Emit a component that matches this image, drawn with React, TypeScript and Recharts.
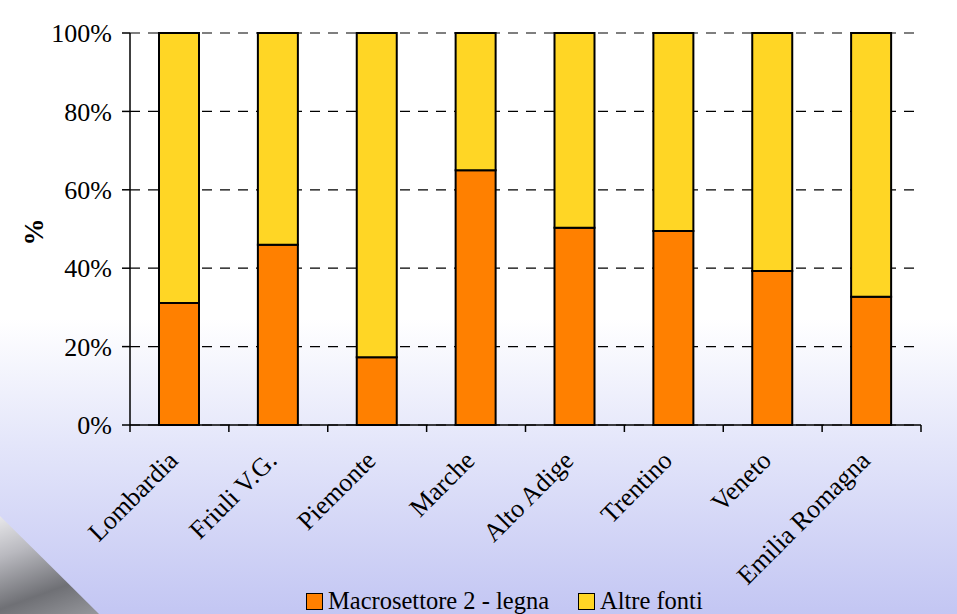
import { Bar, BarChart, CartesianGrid, Legend, XAxis, YAxis } from "recharts";

const regions = [
  "Lombardia",
  "Friuli V.G.",
  "Piemonte",
  "Marche",
  "Alto Adige",
  "Trentino",
  "Veneto",
  "Emilia Romagna",
];
const legna = [31.1, 46, 17.3, 65, 50.3, 49.5, 39.3, 32.7];
const altre = [68.9, 54, 82.7, 35, 49.7, 50.5, 60.7, 67.3];
const yTicks = [0, 20, 40, 60, 80, 100];

const ORANGE = "#ff8000";
const YELLOW = "#ffd625";
const FONT = "'Liberation Serif', 'Times New Roman', serif";

const data = regions.map((name, i) => ({ name, legna: legna[i], altre: altre[i] }));

function RegionTick(props: any) {
  const { x, y, payload, index } = props;
  const half = payload.offset ?? 0;
  const last = index === regions.length - 1;
  const tx = x;
  const ty = y + 37;
  return (
    <g>
      <line x1={x - half} x2={x - half} y1={y} y2={y + 7} stroke="#000" strokeWidth={1.5} />
      {last && <line x1={x + half} x2={x + half} y1={y} y2={y + 7} stroke="#000" strokeWidth={1.5} />}
      <text
        x={tx}
        y={ty}
        transform={`rotate(-45, ${tx}, ${ty})`}
        textAnchor="end"
        fontFamily={FONT}
        fontSize={26}
        fill="#000"
      >
        {payload.value}
      </text>
    </g>
  );
}

function AxisTitle(props: any) {
  const { viewBox } = props;
  const cx = viewBox.x + 34;
  const cy = viewBox.y + viewBox.height / 2 + 3;
  return (
    <text
      x={cx}
      y={cy}
      transform={`rotate(-90, ${cx}, ${cy})`}
      textAnchor="middle"
      dominantBaseline="central"
      fontFamily={FONT}
      fontSize={27}
      fontWeight="bold"
      fill="#000"
    >
      %
    </text>
  );
}

function LegendBox() {
  const item = (color: string, label: string, left: number) => (
    <div style={{ position: "absolute", left, top: 14, display: "flex", alignItems: "center" }}>
      <span
        style={{
          width: 15,
          height: 15,
          background: color,
          border: "1.5px solid #000",
          display: "inline-block",
          marginRight: 5,
        }}
      />
      <span style={{ fontFamily: FONT, fontSize: 24.5, lineHeight: "18px", color: "#000" }}>{label}</span>
    </div>
  );
  return (
    <div style={{ position: "relative", width: 957, height: 36 }}>
      {item(ORANGE, "Macrosettore 2 - legna", 306)}
      {item(YELLOW, "Altre fonti", 578)}
    </div>
  );
}

export default function App() {
  return (
    <div
      style={{
        position: "fixed",
        left: 0,
        top: 0,
        width: 957,
        height: 614,
        overflow: "hidden",
        background: "linear-gradient(to bottom, #ffffff 0%, #ffffff 52%, #e4e6fa 72%, #c3c6f3 100%)",
      }}
    >
      <div
        style={{
          position: "absolute",
          left: 0,
          top: 505,
          width: 110,
          height: 109,
          clipPath: "polygon(0 10%, 35% 45%, 90% 100%, 0 100%)",
          background: "linear-gradient(160deg, #f4f4f6 0%, #b9b9bf 35%, #6f7075 70%, #9a9ba0 100%)",
        }}
      />
      <BarChart
        width={957}
        height={614}
        data={data}
        margin={{ top: 33, right: 36, left: 0, bottom: 0 }}
        barSize={40}
        style={{ position: "absolute", left: 0, top: 0 }}
      >
        <CartesianGrid vertical={false} stroke="#000" strokeDasharray="10 8" strokeWidth={1.2} />
        <XAxis
          dataKey="name"
          height={153}
          interval={0}
          tickSize={0}
          tickMargin={0}
          tickLine={false}
          axisLine={{ stroke: "#000", strokeWidth: 1.5 }}
          tick={<RegionTick />}
        />
        <YAxis
          width={130}
          domain={[0, 100]}
          ticks={yTicks}
          interval={0}
          tickSize={8}
          tickMargin={10}
          tickFormatter={(v: number) => `${v}%`}
          tick={{ fill: "#000", fontFamily: FONT, fontSize: 26 }}
          axisLine={{ stroke: "#000", strokeWidth: 1.5 }}
          tickLine={{ stroke: "#000", strokeWidth: 1.5 }}
          label={<AxisTitle />}
        />
        <Legend verticalAlign="bottom" content={<LegendBox />} />
        <Bar dataKey="legna" stackId="a" fill={ORANGE} stroke="#000" strokeWidth={2} isAnimationActive={false} />
        <Bar dataKey="altre" stackId="a" fill={YELLOW} stroke="#000" strokeWidth={2} isAnimationActive={false} />
      </BarChart>
    </div>
  );
}
